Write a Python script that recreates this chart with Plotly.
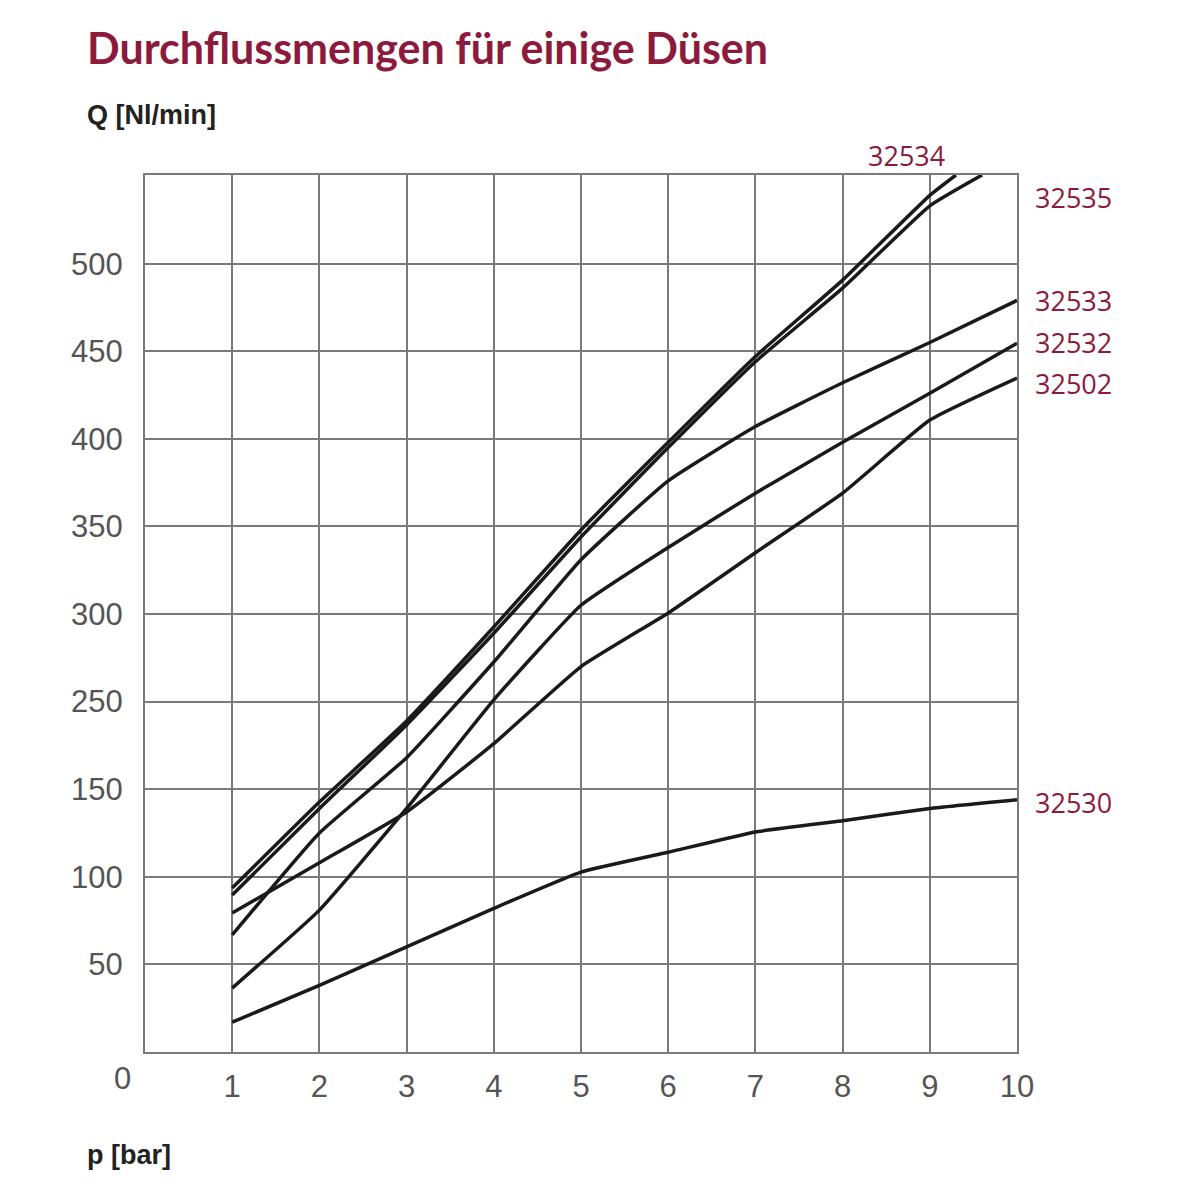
import plotly.graph_objects as go

# p in bar
p = [1, 2, 3, 4, 5, 6, 7, 8, 9, 10]

# Q values in chart units (the y grid is evenly spaced; labels skip 200)
q_32534 = [93.6, 142.7, 189, 242.6, 298, 348, 397, 440.6, 489]
q_32535 = [89.6, 139, 186.7, 239, 294, 345, 394, 436, 483]
q_32533 = [66.8, 125, 168, 222.6, 281, 326, 357, 382, 405, 429]
q_32532 = [36.5, 81, 139, 201, 255, 288, 319, 348, 376, 404.6]
q_32502 = [79.3, 108, 137, 176, 220, 250.6, 285, 319, 360.7, 384.7]
q_32530 = [17, 38, 60, 82, 102.7, 114, 125.6, 132, 139, 144]

# the two top curves leave the chart at the top edge
top_x_32534 = 9.3
top_x_32535 = 9.6
q_top = 500.6

tick_pos = [50, 100, 150, 200, 250, 300, 350, 400, 450]
tick_text = ["50", "100", "150", "250", "300", "350", "400", "450", "500"]

red = "#8c1a3c"
line = dict(color="#1a1a1a", width=3.5, shape="spline", smoothing=0.4)

fig = go.Figure()
fig.add_trace(go.Scatter(x=p[:9] + [top_x_32534], y=q_32534 + [q_top], mode="lines", line=line))
fig.add_trace(go.Scatter(x=p[:9] + [top_x_32535], y=q_32535 + [q_top], mode="lines", line=line))
for q in [q_32533, q_32532, q_32502, q_32530]:
    fig.add_trace(go.Scatter(x=p, y=q, mode="lines", line=line))

fig.update_xaxes(range=[0, 10], tickvals=p, ticktext=[str(v) for v in p],
                 showgrid=True, gridcolor="#7a7a7a", gridwidth=2,
                 showline=True, linecolor="#7a7a7a", linewidth=2, mirror=True,
                 zeroline=False, ticks="", ticklabelstandoff=6,
                 tickfont=dict(family="Liberation Sans", size=31, color="#555"))
fig.update_yaxes(range=[0, q_top], tickvals=tick_pos, ticktext=tick_text,
                 showgrid=True, gridcolor="#7a7a7a", gridwidth=2,
                 showline=True, linecolor="#7a7a7a", linewidth=2, mirror=True,
                 zeroline=False, ticks="", ticklabelstandoff=14,
                 tickfont=dict(family="Liberation Sans", size=31, color="#555"))

ann = [
    dict(x=85, y=48, text="<b>Durchflussmengen für einige Düsen</b>", font=dict(size=43, color=red, family="Lato")),
    dict(x=85, y=115, text="<b>Q [Nl/min]</b>", font=dict(size=27, color="#222", family="Liberation Sans")),
    dict(x=85, y=1155, text="<b>p [bar]</b>", font=dict(size=27, color="#222", family="Liberation Sans")),
    dict(x=112, y=1078, text="0", font=dict(size=31, color="#555", family="Liberation Sans")),
    dict(x=866, y=155, text="32534", font=dict(size=27, color=red, family="Open Sans")),
]
for name, yy in [("32535", 197), ("32533", 300), ("32532", 342), ("32502", 383), ("32530", 802)]:
    ann.append(dict(x=1033, y=yy, text=name, font=dict(size=27, color=red, family="Open Sans")))
for a in ann:
    a.update(xref="paper", yref="paper", showarrow=False, xanchor="left", yanchor="middle")
    a["x"] = (a["x"] - 145) / 872
    a["y"] = (1052 - a["y"]) / 877

fig.update_layout(width=1200, height=1200, showlegend=False,
                  margin=dict(l=137, r=191, t=167, b=156),
                  plot_bgcolor="white", paper_bgcolor="white",
                  annotations=ann)
fig.write_html("out.html")
